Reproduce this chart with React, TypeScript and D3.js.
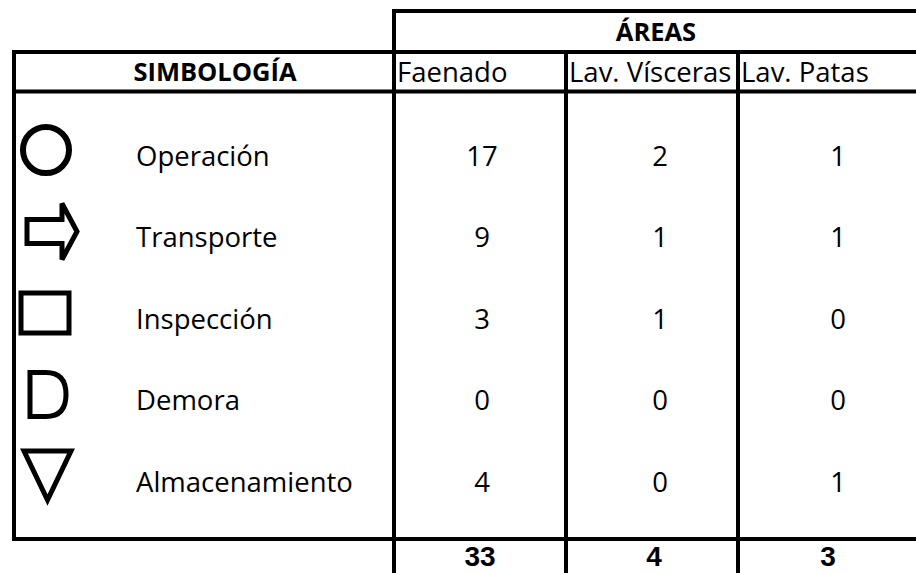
import * as d3 from 'd3';
import React from 'react';

// datos de la tabla
const simbolos = ['Operación', 'Transporte', 'Inspección', 'Demora', 'Almacenamiento'];
const areas = ['Faenado', 'Lav. Vísceras', 'Lav. Patas'];
const faenado = [17, 9, 3, 0, 4];
const lavVisceras = [2, 1, 1, 0, 0];
const lavPatas = [1, 1, 0, 0, 1];
const valores = [faenado, lavVisceras, lavPatas];

const W = 916;
const H = 573;
const FONT = '"Open Sans", sans-serif';

const Simbolo = ({ name, cy }: { name: string; cy: number }) => {
	const sw = 5;
	switch (name) {
		case 'Operación':
			return <circle cx={46} cy={cy} r={23} fill="none" stroke="#000" strokeWidth={6} />;
		case 'Transporte':
			return (
				<path
					d={`M27,${cy - 12} H62 V${cy - 28} L77,${cy} L62,${cy + 28} V${cy + 12} H27 Z`}
					fill="none"
					stroke="#000"
					strokeWidth={sw}
					strokeLinejoin="miter"
				/>
			);
		case 'Inspección':
			return <rect x={21} y={cy - 20} width={48} height={40} fill="none" stroke="#000" strokeWidth={sw} />;
		case 'Demora':
			return (
				<path
					d={`M30,${cy - 22} H46 Q66,${cy - 22} 66,${cy} Q66,${cy + 22} 46,${cy + 22} H30 Z`}
					fill="none"
					stroke="#000"
					strokeWidth={sw}
				/>
			);
		default:
			return (
				<path
					d={`M24,${cy - 25} H71 L47.5,${cy + 24} Z`}
					fill="none"
					stroke="#000"
					strokeWidth={sw}
					strokeLinejoin="miter"
				/>
			);
	}
};

export default function App() {
	const y = d3.scalePoint<string>().domain(simbolos).range([156, 482]);
	const x = d3.scaleBand<string>().domain(areas).range([394, 394 + 3 * 172]);
	// centros de los números (las celdas no están centradas igual)
	const xNum = d3.scalePoint<string>().domain(areas).range([482, 838]);
	const xTot = d3.scalePoint<string>().domain(areas).range([480, 828]);
	const totales = valores.map(v => d3.sum(v));

	const lw = 4;
	const yTop = 11;
	const yH1 = 52;
	const yH2 = 91.5;
	const yBot = 539;

	return (
		<svg width={W} height={H} style={{ position: 'absolute', left: 0, top: 0, background: '#fff' }}>
			<g stroke="#000" strokeWidth={lw}>
				<line x1={394} x2={W} y1={yTop} y2={yTop} />
				<line x1={12} x2={W} y1={yH1} y2={yH1} />
				<line x1={12} x2={W} y1={yH2} y2={yH2} />
				<line x1={12} x2={W} y1={yBot} y2={yBot} />
				<line x1={14} x2={14} y1={yH1 - 2} y2={yBot + 2} />
				<line x1={394} x2={394} y1={yTop - 2} y2={H} />
				{areas.slice(1).map(a => (
					<line key={a} x1={x(a)!} x2={x(a)!} y1={yH1} y2={H} />
				))}
			</g>

			<text x={656} y={32} dy="0.35em" textAnchor="middle" fontFamily={FONT} fontWeight="bold" fontSize={25.5}>
				ÁREAS
			</text>
			<text x={215} y={72} dy="0.35em" textAnchor="middle" fontFamily={FONT} fontWeight="bold" fontSize={25.5}>
				SIMBOLOGÍA
			</text>
			{areas.map(a => (
				<text key={a} x={x(a)! + 3} y={72} dy="0.35em" fontFamily={FONT} fontSize={27.5}>
					{a}
				</text>
			))}

			{simbolos.map((s, i) => (
				<g key={s}>
					<Simbolo name={s} cy={y(s)! - 6} />
					<text x={136} y={y(s)!} dy="0.35em" fontFamily={FONT} fontSize={27.5}>
						{s}
					</text>
					{areas.map((a, j) => (
						<text
							key={a}
							x={xNum(a)!}
							y={y(s)!}
							dy="0.35em"
							textAnchor="middle"
							fontFamily={FONT}
							fontSize={27.5}
						>
							{valores[j][i]}
						</text>
					))}
				</g>
			))}

			{areas.map((a, j) => (
				<text
					key={a}
					x={xTot(a)!}
					y={566}
					textAnchor="middle"
					fontFamily='"Liberation Sans", Arial, sans-serif'
					fontWeight="bold"
					fontSize={28}
				>
					{totales[j]}
				</text>
			))}
		</svg>
	);
}
